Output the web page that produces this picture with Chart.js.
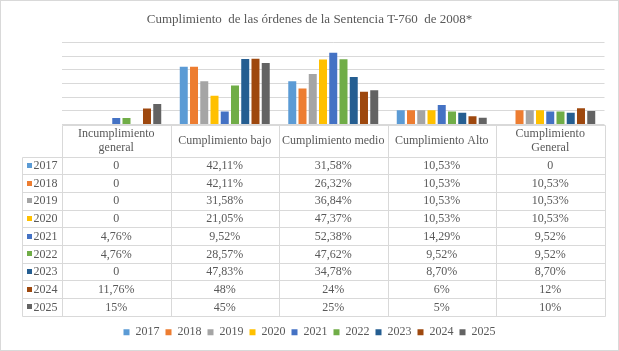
<!DOCTYPE html>
<html>
<head>
<meta charset="utf-8">
<script src="https://cdn.jsdelivr.net/npm/chart.js@4/dist/chart.umd.min.js"></script>
<style>html,body{margin:0;padding:0;background:#fff}canvas{display:block}</style>
</head>
<body>
<canvas id="c" width="619" height="351"></canvas>
<script>
const chartTitle = 'Cumplimiento  de las órdenes de la Sentencia T-760  de 2008*';
const categories = [['Incumplimiento', 'general'], 'Cumplimiento bajo', 'Cumplimiento medio', 'Cumplimiento Alto', ['Cumplimiento', 'General']];
const years = ['2017', '2018', '2019', '2020', '2021', '2022', '2023', '2024', '2025'];
const s2017 = [0, 42.11, 31.58, 10.53, 0];
const s2018 = [0, 42.11, 26.32, 10.53, 10.53];
const s2019 = [0, 31.58, 36.84, 10.53, 10.53];
const s2020 = [0, 21.05, 47.37, 10.53, 10.53];
const s2021 = [4.76, 9.52, 52.38, 14.29, 9.52];
const s2022 = [4.76, 28.57, 47.62, 9.52, 9.52];
const s2023 = [0, 47.83, 34.78, 8.70, 8.70];
const s2024 = [11.76, 48, 24, 6, 12];
const s2025 = [15, 45, 25, 5, 10];
const seriesValues = [s2017, s2018, s2019, s2020, s2021, s2022, s2023, s2024, s2025];
const yMin = 0, yMax = 60, yStep = 10;

const colors = ['#5B9BD5', '#ED7D31', '#A5A5A5', '#FFC000', '#4472C4', '#70AD47', '#255E91', '#9E480E', '#636363'];
const FONT = "'Liberation Serif', 'Times New Roman', serif";
const TXT = '#595959';
const LINE = '#D9D9D9';

function fmt(v) {
  if (v === 0) return '0';
  if (Number.isInteger(v)) return v + '%';
  return v.toFixed(2).replace('.', ',') + '%';
}

const bgPlugin = {
  id: 'bg',
  beforeDraw(chart) {
    const ctx = chart.ctx;
    ctx.save();
    ctx.fillStyle = '#fff';
    ctx.fillRect(0, 0, chart.width, chart.height);
    ctx.strokeStyle = LINE;
    ctx.lineWidth = 1;
    ctx.strokeRect(0.5, 0.5, chart.width - 1, chart.height - 1);
    ctx.restore();
  }
};

const tablePlugin = {
  id: 'dataTable',
  afterDraw(chart) {
    const ctx = chart.ctx;
    const ca = chart.chartArea;
    const n = categories.length;
    const colW = (ca.right - ca.left) / n;
    const top = Math.round(ca.bottom + 0.5) + 0.5;
    const headH = 31;
    const rowH = 17.7;
    const tLeft = 22.5;
    const cLeft = Math.round(ca.left) + 0.5;
    const right = Math.round(ca.right) + 0.5;
    const headBottom = top + headH;
    const bottom = headBottom + rowH * years.length;

    ctx.save();
    ctx.strokeStyle = LINE;
    ctx.lineWidth = 1;
    ctx.beginPath();
    ctx.moveTo(cLeft, top); ctx.lineTo(right, top);
    for (let r = 0; r <= years.length; r++) {
      const y = Math.round(headBottom + r * rowH) + 0.5;
      ctx.moveTo(tLeft, y); ctx.lineTo(right, y);
    }
    ctx.moveTo(tLeft, Math.round(headBottom) + 0.5); ctx.lineTo(tLeft, Math.round(bottom) + 0.5);
    for (let c = 0; c <= n; c++) {
      const x = Math.round(ca.left + c * colW) + 0.5;
      ctx.moveTo(x, top); ctx.lineTo(x, Math.round(bottom) + 0.5);
    }
    ctx.stroke();

    ctx.fillStyle = TXT;
    ctx.font = '12px ' + FONT;
    ctx.textAlign = 'center';
    ctx.textBaseline = 'middle';
    const xs = chart.scales.x;
    for (let c = 0; c < n; c++) {
      const cx = xs.getPixelForValue(c);
      const lab = categories[c];
      const lines = Array.isArray(lab) ? lab : [lab];
      const lh = 14;
      const mid = top + headH / 2;
      lines.forEach((t, i) => {
        ctx.fillText(t, cx, mid + (i - (lines.length - 1) / 2) * lh);
      });
    }
    for (let r = 0; r < years.length; r++) {
      const cy = headBottom + r * rowH + rowH / 2 + 0.5;
      ctx.fillStyle = colors[r];
      ctx.fillRect(27, Math.round(cy - 3), 5, 5);
      ctx.fillStyle = TXT;
      ctx.textAlign = 'left';
      ctx.fillText(years[r], 33.5, cy);
      ctx.textAlign = 'center';
      for (let c = 0; c < n; c++) {
        ctx.fillText(fmt(seriesValues[r][c]), xs.getPixelForValue(c), cy);
      }
    }
    ctx.restore();
  }
};

new Chart(document.getElementById('c'), {
  type: 'bar',
  data: {
    labels: categories,
    datasets: years.map((y, i) => ({
      label: y,
      data: seriesValues[i],
      backgroundColor: colors[i],
      borderWidth: 0,
      categoryPercentage: 0.85,
      barPercentage: 0.78
    }))
  },
  options: {
    responsive: false,
    animation: false,
    devicePixelRatio: 1,
    layout: { padding: { top: 0, right: 0, bottom: 2.7, left: 0 } },
    plugins: {
      title: {
        display: true,
        text: chartTitle,
        color: TXT,
        font: { family: FONT, size: 13, weight: 'normal' },
        padding: { top: 12, bottom: 14.7 }
      },
      legend: {
        position: 'bottom',
        labels: {
          boxWidth: 6,
          boxHeight: 6,
          padding: 6,
          color: TXT,
          font: { family: FONT, size: 12 }
        }
      },
      tooltip: { enabled: false }
    },
    scales: {
      x: {
        grid: { display: false },
        border: { display: false },
        ticks: { display: false },
        afterFit(s) { s.height = 195.7; }
      },
      y: {
        min: yMin,
        max: yMax,
        ticks: { display: false, stepSize: yStep },
        grid: { color: LINE, drawTicks: false, lineWidth: 1 },
        border: { display: false },
        afterFit(s) { s.width = 62; }
      },
      yRight: {
        position: 'right',
        min: yMin,
        max: yMax,
        ticks: { display: false },
        grid: { display: false },
        border: { display: false },
        afterFit(s) { s.width = 14.5; }
      }
    }
  },
  plugins: [bgPlugin, tablePlugin]
});
</script>
</body>
</html>
